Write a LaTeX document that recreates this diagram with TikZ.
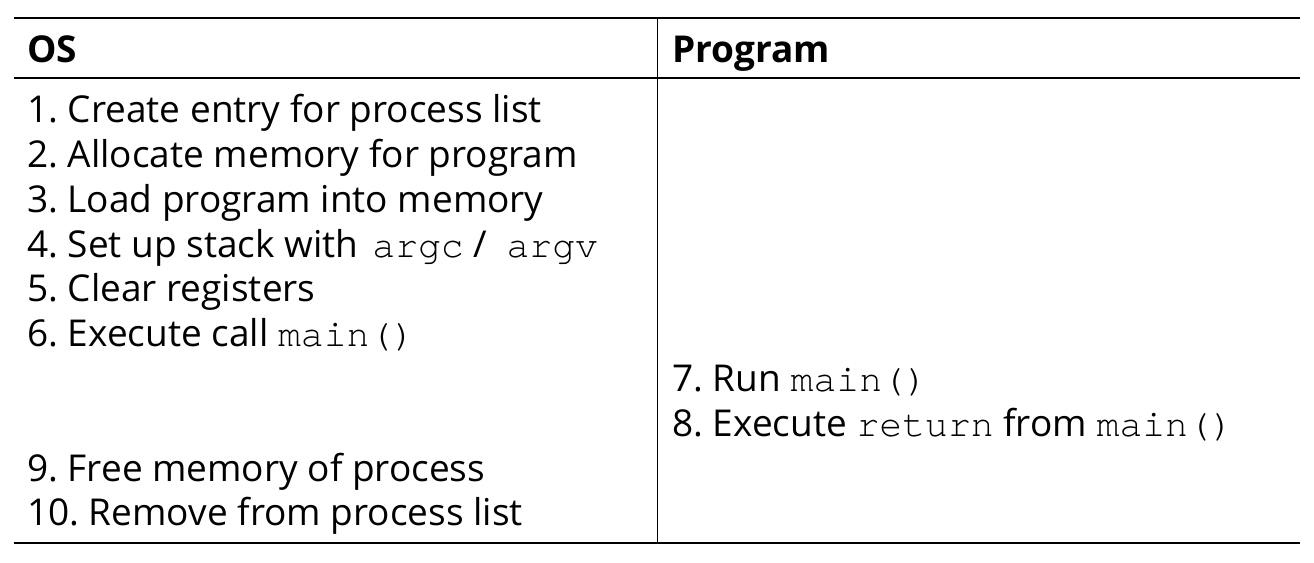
\documentclass[tikz,border=0pt]{standalone}
\usepackage{fontspec}
\setmainfont{Open Sans}
\setmonofont{TeX Gyre Cursor}[Scale=1.03]
\frenchspacing
\begin{document}
\begin{tikzpicture}[x=1pt,y=-1pt,
  rowtext/.style={anchor=base west,inner sep=0pt,font=\fontsize{37}{44.8}\selectfont},
  headtext/.style={anchor=base west,inner sep=0pt,font=\fontsize{37}{44.8}\selectfont\bfseries},
  toprule/.style={line width=2pt},
  midrule/.style={line width=1.3pt},
  vrule/.style={line width=1.2pt}]
\useasboundingbox (0,0) rectangle (1314,562);
\coordinate (tl) at (14,17.5);
\coordinate (tr) at (1300,17.5);
\coordinate (ml) at (14,78);
\coordinate (mr) at (1300,78);
\coordinate (bl) at (14,543);
\coordinate (br) at (1300,543);
\coordinate (vt) at (657.5,17.5);
\coordinate (vb) at (657.5,543);
\draw[toprule] (tl) -- (tr);
\draw[midrule] (ml) -- (mr);
\draw[midrule] (bl) -- (br);
\draw[vrule] (vt) -- (vb);
\node[headtext] (hos) at (27,62) {OS};
\node[headtext] (hprog) at (672,62) {Program};
\node[rowtext] (s1) at (27,122.7) {1. Create entry for process list};
\node[rowtext] (s2) at (27,167.5) {2. Allocate memory for program};
\node[rowtext] (s3) at (27,212.3) {3. Load program into memory};
\node[rowtext] (s4) at (27,257.1) {4. Set up stack with\hspace{14pt}\texttt{argc} /\hspace{19.5pt}\texttt{argv}};
\node[rowtext] (s5) at (27,301.9) {5. Clear registers};
\node[rowtext] (s6) at (27,346.7) {6. Execute call \texttt{main()}};
\node[rowtext] (s7) at (672,391.5) {7. Run \texttt{main()}};
\node[rowtext] (s8) at (672,436.3) {8. Execute \texttt{return} from \texttt{main()}};
\node[rowtext] (s9) at (27,481.1) {9. Free memory of process};
\node[rowtext] (s10) at (27,525.9) {10. Remove from process list};
\end{tikzpicture}
\end{document}
